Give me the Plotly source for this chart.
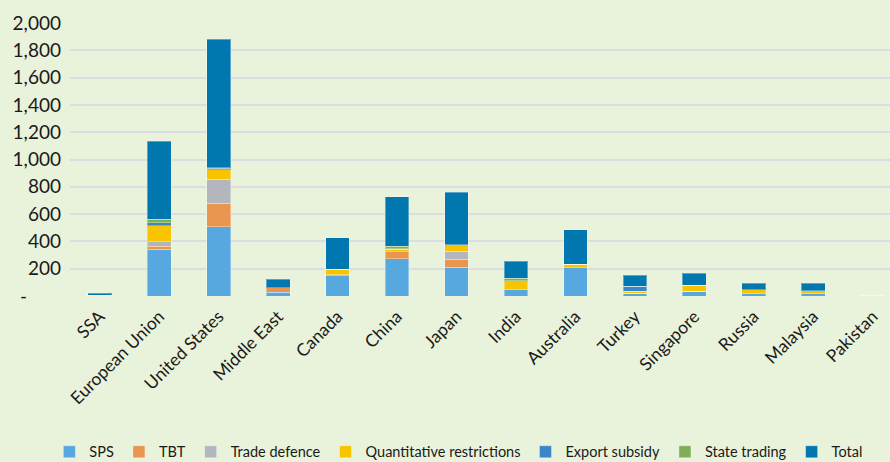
import plotly.graph_objects as go

categories = ["SSA", "European Union", "United States", "Middle East", "Canada", "China",
              "Japan", "India", "Australia", "Turkey", "Singapore", "Russia", "Malaysia", "Pakistan"]

sps = [3, 341, 509, 29, 147, 272, 211, 47, 206, 22, 35, 18, 15, 0]
tbt = [2, 24, 172, 30, 8, 54, 58, 0, 0, 0, 0, 0, 0, 0]
trade_defence = [0, 34, 173, 0, 0, 0, 59, 0, 0, 0, 0, 0, 0, 5]
quantitative_restrictions = [0, 115, 71, 0, 41, 15, 49, 63, 25, 13, 44, 26, 25, 0]
export_subsidy = [0, 22, 10, 0, 0, 5, 0, 0, 0, 36, 0, 0, 0, 0]
state_trading = [0, 27, 5, 0, 0, 17, 0, 20, 3, 0, 0, 0, 0, 0]
total = [14, 571, 942, 64, 230, 365, 383, 125, 253, 81, 88, 49, 53, 0]

series_names = ["SPS", "TBT", "Trade defence", "Quantitative restrictions",
                "Export subsidy", "State trading", "Total"]
series_values = [sps, tbt, trade_defence, quantitative_restrictions,
                 export_subsidy, state_trading, total]
series_colors = ["#56a8de", "#e8954f", "#b3b6bd", "#f8c400", "#3a86c8", "#7fad5a", "#0077ae"]

y_tickvals = [0, 200, 400, 600, 800, 1000, 1200, 1400, 1600, 1800, 2000]
y_ticktext = ["-" + "\u00a0" * 7, "200", "400", "600", "800", "1,000", "1,200", "1,400",
              "1,600", "1,800", "2,000"]

FONT = "Lato"
fig = go.Figure()
for name, vals, col in zip(series_names, series_values, series_colors):
    fig.add_trace(go.Bar(
        x=categories, y=vals, name=name,
        marker=dict(color=col, line=dict(color="rgba(255,255,255,0.35)", width=1)),
    ))

fig.update_layout(
    barmode="stack",
    bargap=0.6,
    width=890, height=462,
    margin=dict(l=70, r=0, t=23, b=166, autoexpand=False),
    paper_bgcolor="#e9f2da",
    plot_bgcolor="#e9f2da",
    font=dict(family=FONT, color="#1a1a1a", size=17),
    showlegend=True,
    legend=dict(
        orientation="h", xref="container", yref="container",
        x=0.515, xanchor="center", y=0.022, yanchor="middle",
        font=dict(family=FONT, size=14.5, color="#1a1a1a"),
        itemwidth=30, traceorder="normal", bgcolor="rgba(0,0,0,0)",
    ),
    xaxis=dict(
        range=[-0.5, 13.29],
        tickangle=-45,
        tickfont=dict(family=FONT, size=17.5, color="#1a1a1a"),
        showgrid=False, showline=False, ticks="",
        automargin=False, ticklabelstandoff=6,
    ),
    yaxis=dict(
        range=[0, 2000],
        tickvals=y_tickvals, ticktext=y_ticktext,
        tickfont=dict(family=FONT, size=19, color="#1a1a1a"),
        showgrid=True, gridcolor="#dcdde3", gridwidth=2,
        zeroline=False, showline=False, ticks="",
        ticklabelstandoff=8, automargin=False,
    ),
)

fig.write_html(
    "out.html",
    config={"displayModeBar": False},
    post_script="document.body.style.margin='0px';document.body.style.background='#e9f2da';",
)
